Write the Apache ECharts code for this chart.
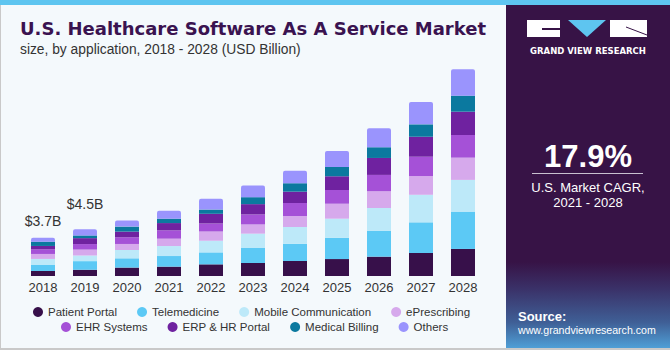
<!DOCTYPE html>
<html lang="en">
<head>
    <meta charset="UTF-8">
    <title>U.S. Healthcare Software As A Service Market</title>
    <script src="https://cdn.jsdelivr.net/npm/echarts@6/dist/echarts.min.js"></script>
    <style>
        html, body, #chart {
            width: 670px;
            height: 350px;
            padding: 0;
            margin: 0;
        }
    </style>
</head>
<body>
<div id="chart"></div>
<script>
    // values in USD billion
    var years = ["2018", "2019", "2020", "2021", "2022", "2023", "2024", "2025", "2026", "2027", "2028"];
    var patientPortal = [0.48, 0.60, 0.81, 0.90, 1.12, 1.25, 1.44, 1.63, 1.86, 2.21, 2.60];
    var telemedicine = [0.58, 0.83, 0.89, 1.02, 1.15, 1.44, 1.66, 2.05, 2.47, 2.95, 3.59];
    var mobileCommunication = [0.58, 0.54, 0.80, 0.96, 1.12, 1.38, 1.61, 1.83, 2.21, 2.65, 3.05];
    var ePrescribing = [0.48, 0.57, 0.58, 0.71, 0.89, 0.89, 1.06, 1.44, 1.61, 1.80, 2.14];
    var ehrSystems = [0.45, 0.53, 0.64, 0.80, 0.77, 0.96, 1.25, 1.32, 1.57, 1.86, 2.18];
    var erpHrPortal = [0.32, 0.57, 0.55, 0.70, 0.93, 0.99, 1.09, 1.32, 1.63, 1.92, 2.24];
    var medicalBilling = [0.41, 0.26, 0.48, 0.42, 0.41, 0.67, 0.81, 0.89, 1.03, 1.19, 1.54];
    var others = [0.38, 0.60, 0.58, 0.77, 1.03, 1.12, 1.21, 1.54, 1.83, 2.14, 2.54];
    var totalLabels = ["$3.7B", "$4.5B", "", "", "", "", "", "", "", "", ""];

    var seriesDefs = [
        {name: "Patient Portal", data: patientPortal, color: "#37104a"},
        {name: "Telemedicine", data: telemedicine, color: "#5cc9f5"},
        {name: "Mobile Communication", data: mobileCommunication, color: "#bde9f9"},
        {name: "ePrescribing", data: ePrescribing, color: "#d6a9ec"},
        {name: "EHR Systems", data: ehrSystems, color: "#a551d7"},
        {name: "ERP & HR Portal", data: erpHrPortal, color: "#6f22a0"},
        {name: "Medical Billing", data: medicalBilling, color: "#0b799f"},
        {name: "Others", data: others, color: "#9a94fd"}
    ];

    var font = "'Liberation Sans', Arial, sans-serif";

    var series = seriesDefs.map(function (s, idx) {
        var last = idx === seriesDefs.length - 1;
        return {
            name: s.name,
            type: "bar",
            stack: "total",
            barWidth: 24,
            itemStyle: {
                color: s.color,
                borderRadius: last ? [2, 2, 0, 0] : 0
            },
            data: !last ? s.data : s.data.map(function (v, i) {
                return {
                    value: v,
                    label: {
                        show: totalLabels[i] !== "",
                        position: "top",
                        distance: i === 1 ? 18 : 10
                    }
                };
            }),
            label: {
                show: false,
                formatter: function (p) {
                    return totalLabels[p.dataIndex];
                },
                color: "#333",
                fontSize: 14,
                fontFamily: font
            }
        };
    });

    var chart = echarts.init(document.getElementById("chart"), null, {renderer: "svg"});

    var legendCommon = {
        icon: "circle",
        itemWidth: 10,
        itemHeight: 10,
        itemGap: 20,
        padding: 0,
        textStyle: {color: "#333", fontSize: 11.5, fontFamily: font}
    };

    chart.setOption({
        backgroundColor: "#f4f9fc",
        animation: false,
        color: seriesDefs.map(function (s) { return s.color; }),
        title: {
            text: "U.S. Healthcare Software As A Service Market",
            subtext: "size, by application, 2018 - 2028 (USD Billion)",
            left: 15,
            top: 14,
            itemGap: 5,
            textStyle: {
                color: "#3a1350",
                fontSize: 18,
                fontWeight: "bold",
                fontFamily: "'DejaVu Sans', sans-serif"
            },
            subtextStyle: {
                color: "#333",
                fontSize: 13.8,
                fontFamily: font
            }
        },
        legend: [
            Object.assign({
                data: ["Patient Portal", "Telemedicine", "Mobile Communication", "ePrescribing"],
                left: 33,
                top: 306
            }, legendCommon),
            Object.assign({
                data: ["EHR Systems", "ERP & HR Portal", "Medical Billing", "Others"],
                left: 61,
                top: 321
            }, legendCommon)
        ],
        grid: {
            left: 22,
            width: 462,
            top: 68,
            bottom: 74
        },
        xAxis: {
            type: "category",
            data: years,
            axisLine: {show: false},
            axisTick: {show: false},
            axisLabel: {color: "#333", fontSize: 13, margin: 5, fontFamily: font}
        },
        yAxis: {
            type: "value",
            min: 0,
            max: 20,
            show: false
        },
        series: series,
        graphic: [
            {type: "rect", shape: {x: 0, y: 0, width: 670, height: 5}, style: {fill: "#5ec5f0"}},
            {type: "rect", shape: {x: 0, y: 5, width: 1, height: 345}, style: {fill: "#c9c9c9"}},
            {type: "rect", shape: {x: 0, y: 348, width: 670, height: 2}, style: {fill: "#c9c9c9"}},
            {type: "rect", shape: {x: 506, y: 5, width: 164, height: 343}, style: {fill: "#371346"}},
            {
                type: "rect",
                shape: {x: 506, y: 262, width: 164, height: 86},
                style: {
                    fill: new echarts.graphic.LinearGradient(0, 0, 0, 1, [
                        {offset: 0, color: "#371346"},
                        {offset: 0.3, color: "#3a3067"},
                        {offset: 0.7, color: "#3f5f96"},
                        {offset: 1, color: "#4f9fd6"}
                    ])
                }
            },
            // logo
            {type: "rect", shape: {x: 527, y: 20, width: 33, height: 17}, style: {fill: "#ffffff"}},
            {type: "rect", shape: {x: 542, y: 28, width: 18, height: 2}, style: {fill: "#371346"}},
            {type: "polygon", shape: {points: [[568, 20], [606, 20], [587, 37]]}, style: {fill: "#5ec5f0"}},
            {type: "rect", shape: {x: 610, y: 20, width: 37, height: 17}, style: {fill: "#ffffff"}},
            {type: "line", shape: {x1: 626, y1: 27, x2: 647, y2: 35}, style: {stroke: "#371346", lineWidth: 1}},
            {
                type: "text", x: 588, y: 51,
                style: {text: "GRAND VIEW RESEARCH", fill: "#ffffff", font: "bold 8.5px 'DejaVu Sans', sans-serif", align: "center", verticalAlign: "middle"}
            },
            {
                type: "text", x: 588, y: 156,
                style: {text: "17.9%", fill: "#ffffff", font: "bold 31px 'Liberation Sans', Arial, sans-serif", align: "center", verticalAlign: "middle"}
            },
            {type: "rect", shape: {x: 532, y: 173, width: 111, height: 1}, style: {fill: "#c8c0d0"}},
            {
                type: "text", x: 588, y: 187,
                style: {text: "U.S. Market CAGR,", fill: "#ffffff", font: "13px 'Liberation Sans', Arial, sans-serif", align: "center", verticalAlign: "middle"}
            },
            {
                type: "text", x: 588, y: 202,
                style: {text: "2021 - 2028", fill: "#ffffff", font: "13px 'Liberation Sans', Arial, sans-serif", align: "center", verticalAlign: "middle"}
            },
            {
                type: "text", x: 518, y: 316,
                style: {text: "Source:", fill: "#ffffff", font: "bold 13px 'Liberation Sans', Arial, sans-serif", verticalAlign: "middle"}
            },
            {
                type: "text", x: 518, y: 330,
                style: {text: "www.grandviewresearch.com", fill: "#ffffff", font: "10.6px 'Liberation Sans', Arial, sans-serif", verticalAlign: "middle"}
            }
        ]
    });
</script>
</body>
</html>
